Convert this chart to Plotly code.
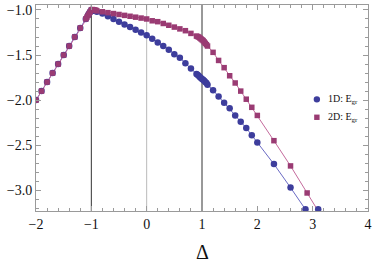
import plotly.graph_objects as go

# Data
left_delta = [-2.0, -1.9, -1.8, -1.7, -1.6, -1.5, -1.4, -1.3, -1.2, -1.1]
left_e = [-2.0, -1.9, -1.8, -1.7, -1.6, -1.5, -1.4, -1.3, -1.2, -1.1]

d1_delta = [-1.06, -1.04, -1.02, -1.0, -0.98, -0.96, -0.9, -0.8, -0.7, -0.6, -0.5, -0.4, -0.3, -0.2, -0.1,
            0.0, 0.1, 0.2, 0.3, 0.4, 0.5, 0.6, 0.7, 0.8, 0.9, 0.92, 0.94, 0.96, 0.98, 1.0,
            1.02, 1.04, 1.06, 1.08, 1.1, 1.2, 1.3, 1.4, 1.5, 1.6, 1.7, 1.8, 1.9, 2.0,
            2.3, 2.6, 2.87]
d1_e = [-1.06, -1.04, -1.02, -1.0, -1.005, -1.01, -1.02, -1.04, -1.07, -1.10, -1.13, -1.16, -1.19, -1.22, -1.25,
        -1.28, -1.32, -1.36, -1.40, -1.44, -1.49, -1.53, -1.59, -1.65, -1.71, -1.72, -1.73, -1.745, -1.755, -1.765,
        -1.775, -1.785, -1.80, -1.81, -1.83, -1.89, -1.96, -2.03, -2.09, -2.17, -2.24, -2.31, -2.39, -2.47,
        -2.71, -2.97, -3.21]
d1_line_end_delta = [3.0]
d1_line_end_e = [-3.33]
d1_extra_delta = [3.1]
d1_extra_e = [-3.21]

d2_delta = [-1.08, -1.06, -1.04, -1.02, -1.0, -0.98, -0.96, -0.94, -0.92, -0.9, -0.8, -0.7, -0.6, -0.5, -0.4, -0.3,
            -0.2, -0.1, 0.0, 0.1, 0.2, 0.3, 0.4, 0.5, 0.6, 0.7, 0.8, 0.9, 0.92, 0.94, 0.96, 0.98,
            1.0, 1.02, 1.04, 1.06, 1.08, 1.1, 1.2, 1.3, 1.4, 1.5, 1.6, 1.7, 1.8, 1.9, 2.0,
            2.3, 2.6, 2.9]
d2_e = [-1.08, -1.06, -1.04, -1.02, -1.0, -0.995, -0.998, -1.0, -1.003, -1.01, -1.02, -1.03, -1.04, -1.05, -1.06, -1.07,
        -1.08, -1.09, -1.10, -1.12, -1.13, -1.15, -1.17, -1.19, -1.21, -1.23, -1.26, -1.29, -1.295, -1.30, -1.31, -1.32,
        -1.33, -1.34, -1.355, -1.37, -1.385, -1.40, -1.47, -1.56, -1.64, -1.73, -1.81, -1.90, -1.99, -2.08, -2.17,
        -2.45, -2.73, -3.03]
d2_line_end_delta = [3.2]
d2_line_end_e = [-3.33]

x_ticks = [-2, -1, 0, 1, 2, 3, 4]
y_ticks = [-1.0, -1.5, -2.0, -2.5, -3.0]
legend_labels = ["1D: E<sub>gr</sub>", "2D: E<sub>gr</sub>"]
x_title = "Δ"

blue = "#3d3d9c"
blue_line = "#6a6ac4"
mag = "#9a3b73"
mag_line = "#c46a9c"
serif = "Liberation Serif"

x1 = left_delta + d1_delta
y1 = left_e + d1_e
x2 = left_delta + d2_delta
y2 = left_e + d2_e

fig = go.Figure()
fig.add_trace(go.Scatter(x=x1 + d1_line_end_delta, y=y1 + d1_line_end_e, mode="lines",
                         line=dict(color=blue_line, width=1), showlegend=False, hoverinfo="skip"))
fig.add_trace(go.Scatter(x=x2 + d2_line_end_delta, y=y2 + d2_line_end_e, mode="lines",
                         line=dict(color=mag_line, width=1), showlegend=False, hoverinfo="skip"))
fig.add_trace(go.Scatter(x=x1, y=y1, mode="markers", name=legend_labels[0], showlegend=False,
                         marker=dict(symbol="circle", size=6.5, color=blue)))
fig.add_trace(go.Scatter(x=d1_extra_delta, y=d1_extra_e, mode="markers", showlegend=False,
                         marker=dict(symbol="circle", size=6.5, color=blue)))
fig.add_trace(go.Scatter(x=x2, y=y2, mode="markers", name=legend_labels[1], showlegend=False,
                         marker=dict(symbol="square", size=5.5, color=mag)))

for xv, col in [(-1, "#333333"), (0, "#bbbbbb"), (1, "#333333")]:
    fig.add_shape(type="line", x0=xv, x1=xv, y0=0, y1=1, xref="x", yref="paper",
                  line=dict(color=col, width=1), layer="below")

# Custom legend (marker glyph + label)
leg_x = 0.846
leg_text_x = 0.872
leg_y = [0.542, 0.455]
fig.add_shape(type="circle", xref="paper", yref="paper", xsizemode="pixel", ysizemode="pixel",
              xanchor=leg_x, yanchor=leg_y[0], x0=-3.2, x1=3.2, y0=-3.2, y1=3.2,
              fillcolor=blue, line=dict(width=0))
fig.add_shape(type="rect", xref="paper", yref="paper", xsizemode="pixel", ysizemode="pixel",
              xanchor=leg_x, yanchor=leg_y[1], x0=-2.7, x1=2.7, y0=-2.7, y1=2.7,
              fillcolor=mag, line=dict(width=0))
for lbl, yy in zip(legend_labels, leg_y):
    fig.add_annotation(x=leg_text_x, y=yy, xref="paper", yref="paper", xanchor="left", yanchor="middle",
                       text=lbl, showarrow=False, font=dict(family=serif, size=10, color="#111111"))

# x-axis title
fig.add_annotation(x=0.5, y=-0.2, xref="paper", yref="paper", xanchor="center", yanchor="middle",
                   text=x_title, showarrow=False, font=dict(family=serif, size=20, color="#111111"))

axis_common = dict(showgrid=False, zeroline=False, showline=True, linecolor="#9a9a9a", linewidth=1,
                   mirror="allticks", ticks="inside", tickcolor="#9a9a9a", ticklen=5, tickwidth=1,
                   automargin=False,
                   tickfont=dict(family=serif, size=14, color="#111111"))

fig.update_xaxes(range=[-2, 4], tickvals=x_ticks, ticktext=[("−" + str(-v)) if v < 0 else str(v) for v in x_ticks],
                 minor=dict(dtick=0.2, ticks="inside", ticklen=3, tickcolor="#9a9a9a", showgrid=False),
                 **axis_common)
fig.update_yaxes(range=[-3.23, -0.945], tickvals=y_ticks, ticktext=["−1.0", "−1.5", "−2.0", "−2.5", "−3.0"],
                 minor=dict(dtick=0.1, tick0=0, ticks="inside", ticklen=3, tickcolor="#9a9a9a", showgrid=False),
                 **axis_common)

fig.update_layout(width=374, height=265, margin=dict(l=36, r=6, t=5, b=54),
                  plot_bgcolor="white", paper_bgcolor="white", showlegend=False)

fig.write_html("out.html", config={"displayModeBar": False},
               post_script="document.body.style.margin='0';document.body.style.padding='0';")
